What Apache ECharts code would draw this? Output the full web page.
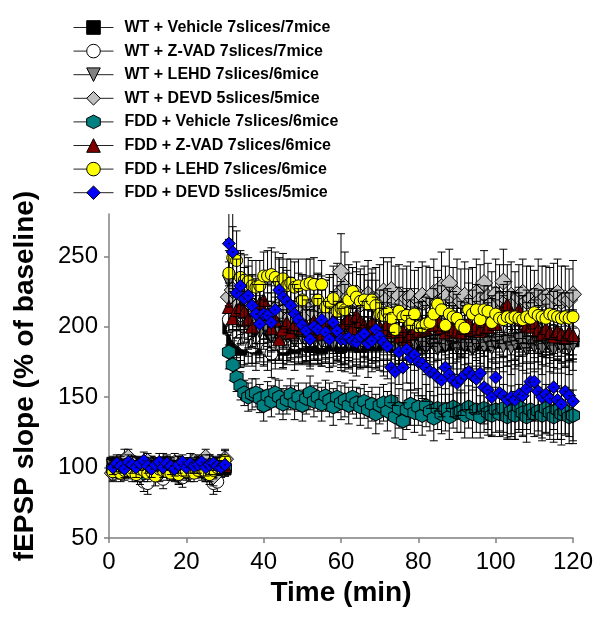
<!DOCTYPE html>
<html><head><meta charset="utf-8">
<script src="https://cdn.jsdelivr.net/npm/echarts@6/dist/echarts.min.js"></script>
<style>html,body{margin:0;padding:0;background:#fff}#c{width:600px;height:635px}</style>
</head><body><div id="c"></div>
<script>
// ---- time points (min) ----
const minutes = [1,2,3,4,5,6,7,8,9,10,11,12,13,14,15,16,17,18,19,20,21,22,23,24,25,26,27,28,29,30,
31,32,33,34,35,36,37,38,39,40,41,42,43,44,45,46,47,48,49,50,51,52,53,54,55,56,57,58,59,60,
61,62,63,64,65,66,67,68,69,70,71,72,73,74,75,76,77,78,79,80,81,82,83,84,85,86,87,88,89,90,
91,92,93,94,95,96,97,98,99,100,101,102,103,104,105,106,107,108,109,110,111,112,113,114,115,116,117,118,119,120];

const seriesNames = [
  'WT + Vehicle 7slices/7mice',
  'WT + Z-VAD 7slices/7mice',
  'WT + LEHD 7slices/6mice',
  'WT + DEVD 5slices/5mice',
  'FDD + Vehicle 7slices/6mice',
  'FDD + Z-VAD 7slices/6mice',
  'FDD + LEHD 7slices/6mice',
  'FDD + DEVD 5slices/5mice'
];

// ---- fEPSP slope (% of baseline) ----
const wtVehicle = [103,100,98,101,102,99,100,97,101,103,99,100,102,98,100,101,99,102,100,98,101,100,103,99,100,98,101,102,100,99,
199,190,186,184,186,189,188,185,191,187,189,192,186,190,184,188,191,185,189,187,190,186,192,188,185,191,187,189,193,186,
189,192,187,190,186,193,188,191,187,190,192,188,191,186,190,193,187,191,189,192,188,191,194,189,192,187,190,193,188,191,
193,189,191,187,192,190,194,188,191,189,191,194,189,192,188,193,190,192,189,191,192,189,193,190,188,192,191,189,193,190];
const wtZvad = [98,101,99,97,100,102,98,96,90,89,97,99,95,92,98,100,97,96,93,99,101,98,97,99,100,96,89,90,98,100,
205,198,193,190,188,192,186,189,191,187,184,181,188,191,186,190,193,188,192,189,193,190,195,191,189,194,192,196,193,190,
194,191,196,193,190,195,192,197,194,191,195,192,197,194,191,196,193,198,195,192,196,193,198,195,192,197,194,199,196,193,
197,194,199,196,193,198,195,200,197,194,198,195,199,196,194,198,195,199,197,195,198,196,199,195,197,194,198,196,193,196];
const wtLehd = [101,99,102,100,98,103,100,101,99,97,102,100,98,101,103,99,100,102,98,100,101,99,103,100,98,102,100,101,99,102,
232,218,210,204,207,200,203,198,196,201,197,193,199,195,191,196,193,190,195,192,194,190,196,192,189,194,191,188,193,190,
192,188,194,190,187,191,189,193,188,190,187,191,188,185,190,186,189,192,187,190,188,185,190,187,184,189,186,191,188,185,
189,186,190,184,188,191,186,189,185,188,190,186,189,185,188,191,187,184,189,186,188,185,190,187,184,188,186,189,185,187];
const wtDevd = [96,98,102,105,107,103,99,95,100,104,101,97,96,102,98,100,103,95,99,101,97,104,100,98,107,96,94,101,103,106,
221,226,214,209,212,207,215,211,208,213,210,206,212,215,209,213,207,211,216,212,209,214,210,217,213,208,215,219,222,239,
228,221,218,224,216,220,223,219,217,221,225,220,226,218,222,217,220,221,216,219,222,218,220,224,217,228,221,231,219,223,
218,222,216,220,224,219,231,221,217,223,220,232,219,222,217,221,224,218,220,216,225,219,221,217,222,224,218,220,219,223];
const fddVehicle = [99,101,97,100,102,98,100,99,96,101,100,98,97,102,99,100,96,101,99,97,100,98,102,99,96,100,98,101,99,100,
182,173,164,158,153,150,152,153,149,144,151,147,153,150,145,148,152,146,150,144,149,153,147,150,145,151,148,143,150,146,
148,144,150,146,143,147,141,145,138,144,146,140,147,136,142,133,141,145,139,143,137,144,140,135,142,138,141,136,143,139,
140,137,143,138,141,136,142,139,137,141,138,142,136,140,137,143,139,136,141,138,140,137,142,139,136,141,138,140,136,137];
const fddZvad = [101,99,103,100,98,102,100,101,99,103,98,100,102,99,101,100,98,103,100,99,102,100,101,98,100,103,99,100,102,101,
214,206,212,214,211,205,200,212,217,219,209,199,205,191,198,203,196,202,207,199,201,197,204,199,195,202,198,205,200,196,
203,206,199,208,204,201,198,203,196,200,198,202,196,199,193,197,191,195,199,197,202,198,204,201,205,199,196,202,198,197,
196,199,203,198,201,197,204,200,206,202,209,213,216,210,207,212,205,201,200,203,198,195,199,196,193,197,195,192,196,194];
const fddLehd = [97,99,96,98,100,97,95,99,98,96,97,94,99,98,97,96,99,95,98,97,100,96,98,99,97,95,98,100,103,105,
238,249,247,235,233,232,229,228,229,236,236,237,235,232,234,229,231,228,229,219,230,231,230,219,230,214,217,220,211,213,
212,219,225,221,218,219,216,219,215,209,208,210,206,198,211,207,208,202,209,200,200,202,203,209,216,212,201,209,207,206,
201,199,212,209,212,205,212,211,203,209,206,205,207,206,207,206,205,207,206,210,208,207,206,209,208,207,206,207,206,207];
const fddDevd = [100,103,101,99,104,102,100,103,105,101,99,102,104,100,103,101,99,102,104,100,103,101,102,104,100,102,103,101,100,102,
259,253,224,229,220,222,215,209,202,209,208,203,212,226,221,218,215,209,205,201,197,191,200,198,205,196,191,203,197,191,
191,192,190,189,193,195,188,190,198,193,189,186,171,168,182,171,184,178,180,175,174,171,168,167,164,162,171,166,162,160,
163,166,168,165,163,167,157,155,150,164,153,151,148,150,148,152,151,156,161,161,154,150,152,149,157,148,145,154,151,147];

// ---- SEM ----
const wtVehicleErr = [5,4,6,5,4,5,6,4,5,5,4,6,5,4,5,6,5,4,5,5,4,6,5,4,5,5,6,4,5,5,
16,14,15,13,14,15,14,16,13,15,14,15,16,14,13,15,14,16,15,14,15,14,16,15,13,14,16,15,14,15,
16,14,15,17,15,14,16,15,17,14,15,16,14,15,17,16,14,15,16,15,17,15,16,14,15,17,16,15,14,16,
15,16,17,15,14,16,15,17,16,15,16,15,17,16,15,14,16,17,15,16,17,16,15,16,17,15,16,17,16,15];
const wtZvadErr = [6,5,5,6,4,5,6,5,7,8,5,6,5,7,5,4,6,5,7,5,6,5,4,6,5,6,8,7,5,6,
18,16,15,14,15,13,14,15,16,14,15,17,14,15,16,14,15,13,14,15,14,16,15,14,15,16,14,15,16,15,
16,15,14,16,15,17,15,14,16,15,15,16,14,15,17,15,16,14,15,16,16,15,17,14,16,15,17,16,15,16,
17,16,15,16,17,15,16,17,15,16,16,17,15,16,17,16,15,17,16,17,17,16,17,15,16,17,16,15,17,16];
const wtLehdErr = [5,6,5,4,6,5,5,6,4,5,6,5,5,4,6,5,5,6,4,5,5,6,5,4,6,5,5,6,4,5,
22,20,18,17,18,16,17,18,16,17,18,17,16,18,17,16,18,17,16,17,18,17,16,18,17,19,17,16,18,17,
18,17,19,18,17,16,18,19,17,18,19,18,17,18,19,17,18,19,18,17,18,19,17,18,19,18,17,19,18,19,
19,18,19,17,18,19,18,19,17,18,19,18,17,19,18,19,18,17,19,18,18,19,18,19,17,18,19,18,19,18];
const wtDevdErr = [6,5,7,8,6,5,6,7,5,6,7,5,6,8,5,6,7,6,5,6,7,5,6,7,6,8,7,5,6,7,
25,24,22,21,20,22,21,23,20,22,21,23,22,20,24,22,23,21,22,24,23,22,24,21,23,25,22,24,23,27,
25,23,24,22,25,23,24,22,25,23,24,26,23,25,22,24,23,25,24,23,24,25,22,24,23,25,22,24,23,25,
23,24,25,22,24,25,23,24,22,25,24,23,25,24,22,23,24,25,23,24,23,24,22,25,23,24,25,23,22,24];
const fddVehicleErr = [5,4,5,6,4,5,5,4,6,5,4,5,6,5,4,5,6,4,5,5,6,4,5,5,6,4,5,5,4,6,
12,11,10,10,9,10,11,10,10,11,10,11,10,12,11,10,11,12,10,11,11,12,11,10,12,11,12,13,11,12,
12,13,12,11,13,12,13,12,14,13,13,14,13,15,14,13,14,15,14,13,14,15,14,16,15,14,15,16,15,14,
15,16,15,17,16,15,17,16,15,16,16,17,16,18,17,16,17,18,17,16,17,18,17,16,18,17,18,17,19,18];
const fddZvadErr = [5,6,5,4,5,6,5,5,6,4,5,6,5,5,4,6,5,5,6,4,5,5,6,5,4,6,5,5,6,5,
17,16,15,16,15,14,15,16,15,16,15,14,16,15,14,16,15,16,14,15,16,15,14,16,15,16,15,14,16,15,
15,16,15,14,16,15,16,15,14,16,16,15,16,15,17,16,15,16,15,16,16,17,16,15,16,17,16,15,17,16,
17,16,17,16,17,16,15,17,16,17,16,17,16,15,17,16,17,16,17,16,17,16,17,16,17,18,16,17,16,17];
const fddLehdErr = [6,5,6,5,6,7,5,6,5,6,5,7,6,5,6,5,6,7,5,6,5,6,5,6,7,5,6,5,6,7,
24,22,21,19,18,17,18,19,18,17,18,19,18,17,18,19,17,18,19,18,18,17,19,18,17,19,18,17,18,19,
18,19,17,18,19,18,17,19,18,17,18,17,19,18,17,18,19,17,18,17,18,19,17,18,19,17,18,19,18,17,
17,18,19,17,18,19,17,18,17,19,18,17,18,19,17,18,17,19,18,17,18,19,17,18,17,19,18,17,18,19];
const fddDevdErr = [5,6,5,6,5,6,7,5,6,5,6,5,6,7,5,6,5,6,5,6,7,5,6,5,6,7,5,6,5,6,
30,28,24,23,22,21,22,21,20,21,22,21,20,22,21,22,20,21,22,21,22,21,23,22,21,22,23,22,21,22,
23,22,23,24,22,23,24,22,23,24,24,23,25,24,23,25,24,23,25,24,25,24,26,25,24,26,25,24,26,25,
26,25,27,26,25,27,26,28,27,26,27,28,27,26,28,27,28,29,27,28,28,29,28,29,30,28,29,30,29,30];

const values = [wtVehicle, wtZvad, wtLehd, wtDevd, fddVehicle, fddZvad, fddLehd, fddDevd];
const errors = [wtVehicleErr, wtZvadErr, wtLehdErr, wtDevdErr, fddVehicleErr, fddZvadErr, fddLehdErr, fddDevdErr];

// ---- styles ----
const FONT = "'Liberation Sans', Arial, Helvetica, sans-serif";
const symbols = ['rect', 'circle', 'path://M-1,-1L1,-1L0,1Z', 'diamond',
  'path://M0,-1L0.866,-0.5L0.866,0.5L0,1L-0.866,0.5L-0.866,-0.5Z', 'triangle', 'circle', 'diamond'];
const colors = ['#000000', '#ffffff', '#808080', '#c0c0c0', '#008080', '#800000', '#ffff00', '#0000ff'];
const sizes = [12, 13, 13, 17, [13, 14], 13, 12, 13];

const series = [];
values.forEach((vals, i) => {
  const errs = errors[i];
  series.push({
    type: 'custom',
    z: 10 + 3 * i,
    silent: true,
    animation: false,
    data: minutes.map((t, j) => [t, vals[j], errs[j]]),
    encode: { x: 0, y: 1 },
    renderItem: function (params, api) {
      const t = api.value(0), v = api.value(1), e = api.value(2);
      const cs = params.coordSys;
      const top = api.coord([t, v + e]);
      const bot = api.coord([t, v - e]);
      const st = { stroke: '#000', lineWidth: 1 };
      const yTop = Math.max(top[1], cs.y);
      const ch = [{ type: 'line', shape: { x1: top[0], y1: yTop, x2: bot[0], y2: bot[1] }, style: st }];
      if (top[1] >= cs.y) ch.push({ type: 'line', shape: { x1: top[0] - 4, y1: top[1], x2: top[0] + 4, y2: top[1] }, style: st });
      ch.push({ type: 'line', shape: { x1: bot[0] - 4, y1: bot[1], x2: bot[0] + 4, y2: bot[1] }, style: st });
      return { type: 'group', children: ch };
    }
  });
  series.push({
    type: 'line',
    name: seriesNames[i],
    z: 11 + 3 * i,
    animation: false,
    data: minutes.map((t, j) => [t, vals[j]]),
    symbol: symbols[i],
    symbolSize: sizes[i],
    showSymbol: true,
    showAllSymbol: true,
    itemStyle: { color: colors[i], borderColor: '#000', borderWidth: 1, opacity: 1 },
    lineStyle: { opacity: 0, width: 1, color: '#000' },
    emphasis: { disabled: true }
  });
});
// small dark centre dots of the FDD + DEVD diamonds
series.push({
  type: 'scatter',
  z: 12 + 3 * 7,
  silent: true,
  animation: false,
  data: minutes.map((t, j) => [t, fddDevd[j]]),
  symbol: 'circle',
  symbolSize: 2,
  itemStyle: { color: '#000040', opacity: 1 },
  emphasis: { disabled: true }
});

const chart = echarts.init(document.getElementById('c'), null, { renderer: 'canvas' });
chart.setOption({
  backgroundColor: '#fff',
  animation: false,
  textStyle: { fontFamily: FONT },
  grid: { left: 109, right: 27, top: 214, bottom: 97, containLabel: false },
  legend: {
    orient: 'vertical', left: 68, top: 14, padding: 5,
    itemWidth: 40, itemHeight: 17, itemGap: 6.6,
    selectedMode: false,
    data: seriesNames,
    textStyle: { fontFamily: FONT, fontSize: 16, fontWeight: 'bold', color: '#000', lineHeight: 17, padding: [0, 0, 0, 6] },
    lineStyle: { color: '#222', width: 1, opacity: 1, type: 'solid' },
    itemStyle: { borderColor: '#000', borderWidth: 1 }
  },
  xAxis: {
    type: 'value', min: 0, max: 120, interval: 20,
    name: 'Time (min)', nameLocation: 'middle', nameGap: 40,
    nameTextStyle: { fontFamily: FONT, fontSize: 28, fontWeight: 'bold', color: '#000' },
    axisLine: { lineStyle: { color: '#808080', width: 1.5 } },
    axisTick: { show: true, length: 5, lineStyle: { color: '#808080', width: 1.5 } },
    axisLabel: { fontFamily: FONT, fontSize: 24, color: '#000', margin: 12 },
    splitLine: { show: false }
  },
  yAxis: {
    type: 'value', min: 50, max: 280, interval: 50,
    name: 'fEPSP slope (% of baseline)', nameLocation: 'middle', nameGap: 70,
    nameTextStyle: { fontFamily: FONT, fontSize: 28, fontWeight: 'bold', color: '#000' },
    axisLine: { lineStyle: { color: '#808080', width: 1.5 } },
    axisTick: { show: true, length: 5, lineStyle: { color: '#808080', width: 1.5 } },
    axisLabel: { fontFamily: FONT, fontSize: 24, color: '#000', margin: 11, showMaxLabel: false },
    splitLine: { show: false }
  },
  series: series
});
</script>
</body></html>
